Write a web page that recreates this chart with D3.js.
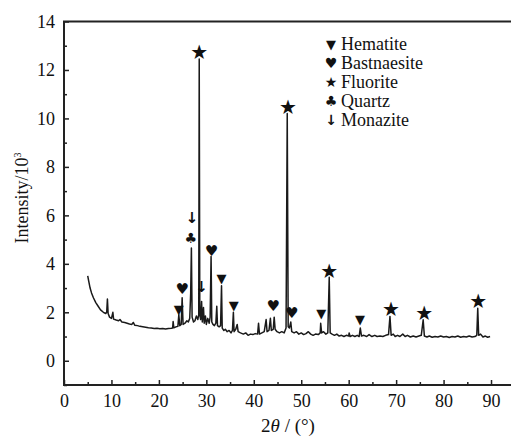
<!DOCTYPE html>
<html>
<head>
<meta charset="utf-8">
<script src="https://cdn.jsdelivr.net/npm/d3@7/dist/d3.min.js"></script>
<style>
  body { margin: 0; background: #fff; }
  svg { display: block; }
  text { font-family: "Liberation Serif", "Times New Roman", serif; fill: #111; }
</style>
</head>
<body>
<svg id="chart" width="511" height="441"></svg>
<script>
// XRD pattern: [2theta, intensity / 10^3]
const pattern = [
  [5.0,3.5],[5.2,3.3],[5.5,3.0],[5.8,2.8],[6.2,2.6],[6.7,2.4],[7.2,2.25],[7.7,2.1],[8.3,2.0],[8.8,1.95],
  [9.0,2.0],[9.15,2.55],[9.3,1.95],[9.6,1.8],[10.0,1.75],[10.3,2.0],[10.45,1.72],[11.0,1.68],[11.5,1.65],[11.8,1.7],
  [12.2,1.6],[12.8,1.58],[13.3,1.55],[13.8,1.52],[14.3,1.5],[14.6,1.58],[14.9,1.47],[15.5,1.45],[16.0,1.42],[16.6,1.4],
  [17.2,1.38],[17.8,1.36],[18.4,1.35],[19.0,1.33],[19.6,1.34],[20.2,1.32],[20.8,1.33],[21.4,1.31],[22.0,1.33],[22.6,1.34],
  [22.9,1.35],[23.0,1.62],[23.15,1.36],[23.6,1.4],[24.0,1.42],[24.2,1.9],[24.4,1.45],[24.7,1.5],[24.9,2.6],[25.1,1.5],
  [25.5,1.55],[25.9,1.65],[26.2,1.6],[26.5,1.75],[26.7,2.8],[26.85,4.65],[27.0,1.8],[27.3,1.6],[27.6,1.65],[27.9,1.85],
  [28.2,1.7],[28.4,1.9],[28.5,12.45],[28.62,1.9],[28.8,1.7],[29.0,2.45],[29.15,1.6],[29.4,2.2],[29.55,1.55],[29.8,1.85],
  [30.0,1.5],[30.3,1.75],[30.6,1.55],[30.8,1.8],[31.0,4.3],[31.15,1.6],[31.4,1.5],[31.7,1.45],[32.0,1.55],[32.2,2.25],
  [32.35,1.45],[32.7,1.4],[33.0,1.45],[33.2,3.1],[33.35,1.35],[33.7,1.25],[34.0,1.3],[34.4,1.2],[34.8,1.25],[35.2,1.15],
  [35.5,1.25],[35.7,2.0],[35.85,1.2],[36.2,1.3],[36.5,1.5],[36.7,1.2],[37.2,1.15],[37.8,1.1],[38.3,1.15],[38.8,1.05],
  [39.3,1.1],[39.8,1.08],[40.3,1.12],[40.8,1.1],[41.0,1.55],[41.2,1.1],[41.7,1.15],[42.2,1.2],[42.6,1.7],[42.8,1.2],
  [43.2,1.25],[43.5,1.75],[43.7,1.25],[44.1,1.3],[44.3,1.8],[44.5,1.3],[44.9,1.2],[45.4,1.15],[45.9,1.2],[46.4,1.15],
  [46.8,1.35],[47.05,10.2],[47.25,1.4],[47.5,1.35],[47.8,1.6],[48.0,1.2],[48.5,1.15],[49.0,1.2],[49.5,1.1],[50.0,1.15],
  [50.5,1.08],[51.0,1.12],[51.5,1.2],[52.0,1.1],[52.5,1.05],[53.0,1.1],[53.6,1.08],[54.0,1.15],[54.1,1.55],[54.3,1.15],
  [54.7,1.2],[55.2,1.1],[55.6,1.15],[55.9,3.45],[56.1,1.15],[56.5,1.1],[57.0,1.05],[57.5,1.1],[58.0,1.02],[58.5,1.05],
  [59.0,1.0],[59.5,1.05],[60.0,1.02],[60.1,1.15],[60.3,1.0],[60.8,1.05],[61.3,1.0],[61.8,1.05],[62.2,1.0],[62.45,1.35],
  [62.7,1.02],[63.2,1.05],[63.8,1.0],[64.3,1.08],[64.9,1.0],[65.5,1.05],[66.0,1.0],[66.6,1.02],[67.2,1.0],[67.8,1.05],
  [68.4,1.08],[68.7,1.83],[68.95,1.05],[69.4,1.1],[69.8,1.0],[70.3,1.05],[70.8,1.0],[71.4,1.1],[71.9,1.0],[72.4,1.05],
  [73.0,0.98],[73.6,1.02],[74.2,0.98],[74.8,1.02],[75.3,1.05],[75.7,1.69],[75.95,1.02],[76.5,0.98],[77.0,1.02],[77.6,0.97],
  [78.2,1.0],[78.8,0.98],[79.4,1.02],[80.0,0.98],[80.6,1.0],[81.2,0.96],[81.8,1.0],[82.4,0.98],[83.0,1.02],[83.6,0.97],
  [84.2,1.0],[84.8,0.98],[85.4,1.02],[86.0,0.98],[86.6,1.0],[87.0,1.05],[87.2,2.17],[87.4,1.05],[87.8,1.1],[88.3,0.98],
  [88.8,1.02],[89.3,0.97],[89.8,1.0]
];

// phase markers: [phase, 2theta, height of the marker]
const markers = [
  ['Hematite', 24.2, 2.1], ['Bastnaesite', 24.9, 2.97], ['Quartz', 26.7, 5.05], ['Monazite', 27.0, 5.9],
  ['Fluorite', 28.5, 12.75], ['Monazite', 29.0, 3.05], ['Bastnaesite', 31.1, 4.55], ['Hematite', 33.2, 3.38],
  ['Hematite', 35.8, 2.27], ['Bastnaesite', 44.1, 2.24], ['Fluorite', 47.2, 10.49], ['Bastnaesite', 48.0, 1.97],
  ['Hematite', 54.2, 1.93], ['Fluorite', 55.9, 3.71], ['Hematite', 62.4, 1.69], ['Fluorite', 68.9, 2.13],
  ['Fluorite', 75.9, 1.99], ['Fluorite', 87.3, 2.47]
];

const phases = ['Hematite', 'Bastnaesite', 'Fluorite', 'Quartz', 'Monazite'];
const glyphs = { Hematite: '\u25BC', Bastnaesite: '\u2665', Fluorite: '\u2605', Quartz: '\u2663', Monazite: '\u2193' };
const glyphSize = { Hematite: 13, Bastnaesite: 15, Fluorite: 20, Quartz: 14, Monazite: 15 };

const xTicks = [0, 10, 20, 30, 40, 50, 60, 70, 80, 90];
const yTicks = [0, 2, 4, 6, 8, 10, 12, 14];

const svg = d3.select('#chart');
const plotLeft = 64, plotRight = 511, plotTop = 21.5, plotBottom = 385;

const x = d3.scaleLinear().domain([0, 94]).range([plotLeft, plotLeft + 446]);
const y = d3.scaleLinear().domain([-1, 14]).range([plotBottom, plotTop]);

// axes, ticks point inward
const xMinor = d3.range(5, 95, 10);
svg.append('g')
  .attr('transform', `translate(0,${plotBottom})`)
  .call(d3.axisBottom(x).tickValues(xMinor).tickSize(-3).tickFormat(''))
  .call(g => g.select('.domain').remove());
svg.append('g')
  .attr('transform', `translate(0,${plotBottom})`)
  .call(d3.axisBottom(x).tickValues(xTicks).tickSize(-5).tickPadding(9).tickFormat(d3.format('d')))
  .call(g => g.select('.domain').remove())
  .call(g => g.selectAll('text').attr('font-size', 18).attr('dy', '0.72em'));

const yMinor = d3.range(-1, 15, 2);
svg.append('g')
  .attr('transform', `translate(${plotLeft},0)`)
  .call(d3.axisLeft(y).tickValues(yMinor).tickSize(-3).tickFormat(''))
  .call(g => g.select('.domain').remove());
svg.append('g')
  .attr('transform', `translate(${plotLeft},0)`)
  .call(d3.axisLeft(y).tickValues(yTicks).tickSize(-5).tickPadding(9).tickFormat(d3.format('d')))
  .call(g => g.select('.domain').remove())
  .call(g => g.selectAll('text').attr('font-size', 18));

svg.selectAll('.tick line').attr('stroke', '#222').attr('stroke-width', 1.5);

// frame: left, bottom, top
svg.append('path')
  .attr('d', `M${plotRight},${plotTop}H${plotLeft}V${plotBottom}H${plotRight}`)
  .attr('fill', 'none')
  .attr('stroke', '#222')
  .attr('stroke-width', 2);

// pattern
const line = d3.line().x(d => x(d[0])).y(d => y(d[1]));
svg.append('path')
  .datum(pattern)
  .attr('d', line)
  .attr('fill', 'none')
  .attr('stroke', '#1a1a1a')
  .attr('stroke-width', 1.5)
  .attr('stroke-linejoin', 'round');

// phase markers
svg.append('g').selectAll('text')
  .data(markers)
  .join('text')
  .attr('x', d => x(d[1]))
  .attr('y', d => y(d[2]))
  .attr('text-anchor', 'middle')
  .attr('dominant-baseline', 'central')
  .style('font-family', 'DejaVu Sans')
  .style('font-weight', 'bold')
  .attr('font-size', d => glyphSize[d[0]])
  .text(d => glyphs[d[0]]);

// legend
const legend = svg.append('g').attr('transform', 'translate(331,44)');
const rows = legend.selectAll('g')
  .data(phases)
  .join('g')
  .attr('transform', (d, i) => `translate(0,${i * 19})`);
rows.append('text')
  .attr('text-anchor', 'middle')
  .attr('dominant-baseline', 'central')
  .style('font-family', 'DejaVu Sans')
  .style('font-weight', 'bold')
  .attr('font-size', d => Math.min(glyphSize[d], 14))
  .text(d => glyphs[d]);
rows.append('text')
  .attr('x', 10)
  .attr('dominant-baseline', 'central')
  .attr('font-size', 18)
  .text(d => d);

// axis titles
svg.append('text')
  .attr('x', 288)
  .attr('y', 432)
  .attr('text-anchor', 'middle')
  .attr('font-size', 19)
  .html('2<tspan font-style="italic">\u03B8</tspan> / (\u00B0)');

svg.append('text')
  .attr('transform', 'translate(28,198) rotate(-90)')
  .attr('text-anchor', 'middle')
  .attr('font-size', 18)
  .html('Intensity/10<tspan dy="-7" font-size="10">3</tspan>');
</script>
</body>
</html>
